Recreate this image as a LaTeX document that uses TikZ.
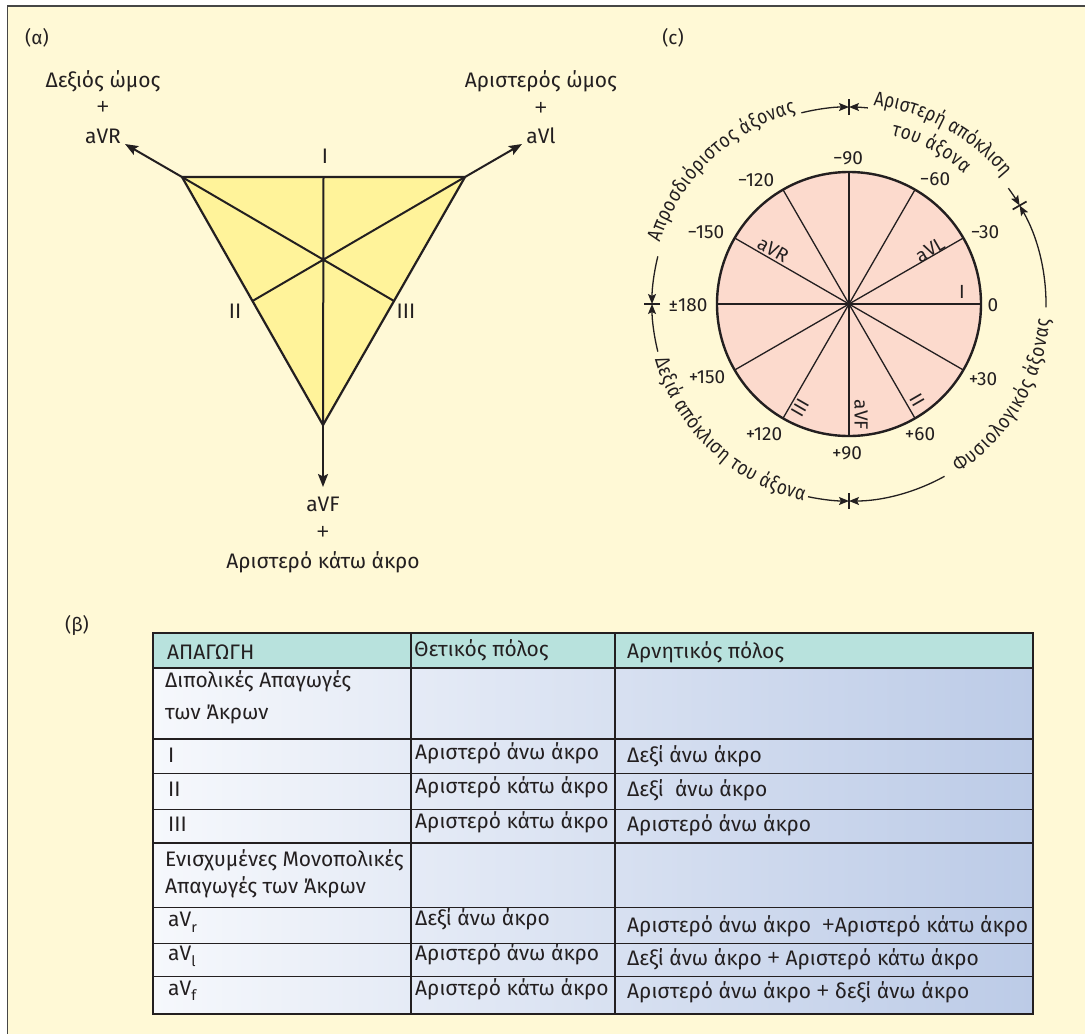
\documentclass[tikz,border=0pt]{standalone}
\usepackage{fontspec}
\setmainfont{Fira Sans}
\newfontfamily\plusfont{Open Sans}
\newfontfamily\arcfam[FakeStretch=0.85]{Fira Sans}
\usetikzlibrary{arrows.meta,decorations.text,calc}
\definecolor{ink}{RGB}{35,31,32}
\definecolor{bgy}{RGB}{255,249,214}
\definecolor{triy}{RGB}{255,243,154}
\definecolor{pinkc}{RGB}{252,218,205}
\definecolor{headc}{RGB}{184,226,221}
\definecolor{tblL}{RGB}{246,248,252}
\definecolor{tblR}{RGB}{188,203,231}
\definecolor{framec}{RGB}{70,70,70}
\newcommand\fmain{\fontsize{21}{26}\selectfont}
\newcommand\ftick{\fontsize{19}{23}\selectfont}
\newcommand\farc{\arcfam\fontsize{20.3}{24}\selectfont}
\newcommand\sbs[1]{\raisebox{-0.27em}{\fontsize{14.5}{15}\selectfont #1}}
\newcommand\pl{{\plusfont\fontsize{22}{26}\selectfont +}}
\begin{document}
\begin{tikzpicture}[x=1pt,y=-1pt,
  lab/.style={inner sep=0pt, text=ink, font=\fmain},
  tick/.style={inner sep=0pt, text=ink, font=\ftick},
  cell/.style={inner sep=0pt, text=ink, font=\fmain, anchor=base west},
  tarr/.style={draw=ink, line width=2pt, -{Stealth[length=13pt,width=10pt,inset=2.5pt]}},
  arcline/.style={draw=ink, line width=1.3pt},
  arctip/.style={arcline, -{Stealth[length=10pt,width=8pt,inset=2pt]}},
  thinrule/.style={draw=ink, line width=1.3pt},
  thickrule/.style={draw=ink, line width=2.6pt},
  arctext/.style={decorate, decoration={text along path, text color=ink, text align={fit to path}, text={#1}}}
]
\useasboundingbox (0,0) rectangle (1085,1034);
% background and frame
\fill[white] (0,0) rectangle (1085,1034);
\fill[bgy] (7.5,6) rectangle (1085,1034);
\draw[framec, line width=1.8pt] (7.5,1034) -- (7.5,6) -- (1085,6);

% ---------------- (a) triangle ----------------
\node[inner sep=0pt, text=ink, font=\ftick, anchor=base] (la) at (37,44) {(α)};
\coordinate (TL) at (182,177);
\coordinate (TR) at (465,177);
\coordinate (TB) at (323,425);
\coordinate (TM) at (323.5,177);
\coordinate (ML) at ($(TL)!0.5!(TB)$);
\coordinate (MR) at ($(TR)!0.5!(TB)$);
\filldraw[fill=triy, draw=ink, line width=2.2pt, line join=miter] (TL) -- (TR) -- (TB) -- cycle;
\draw[ink, line width=2pt] (TM) -- (TB) (TL) -- (MR) (TR) -- (ML);
\coordinate (avrtip) at (125,144);
\coordinate (avltip) at (522,144);
\coordinate (avftip) at (323,487);
\draw[tarr] (TL) -- (avrtip);
\draw[tarr] (TR) -- (avltip);
\draw[tarr] (TB) -- (avftip);
\node[lab, anchor=base] (rs) at (103,87) {Δεξιός ώμος};
\node[lab] (rp) at (103,108) {\pl};
\node[lab, anchor=base] (avr) at (103,143.3) {aVR};
\node[lab, anchor=base] (ls) at (541,87) {Αριστερός ώμος};
\node[lab] (lp) at (541,109) {\pl};
\node[lab, anchor=base] (avl) at (541,143.3) {aVl};
\node[lab, anchor=base] (tI) at (325,163) {I};
\node[lab, anchor=base] (tII) at (235,318) {II};
\node[lab, anchor=base] (tIII) at (406,318) {III};
\node[lab, anchor=base] (avf) at (323,511.7) {aVF};
\node[lab] (fp) at (323,533) {\pl};
\node[lab, anchor=base] (ll) at (323,568) {Αριστερό κάτω άκρο};

% ---------------- (c) circle ----------------
\node[inner sep=0pt, text=ink, font=\ftick, anchor=base] (lc) at (673,44) {(c)};
\coordinate (O) at (849,304);
\fill[pinkc] (O) circle[radius=132];
\foreach \a in {30,60,120,150,210,240,300,330}
  \draw[ink, line width=1.3pt] (O) -- ++(\a:132);
\foreach \a in {0,90,180,270}
  \draw[ink, line width=1.8pt] (O) -- ++(\a:132);
\draw[ink, line width=2.4pt] (O) circle[radius=132];
% tick labels
\node[tick] (m90) at (848,158) {−90};
\node[tick] (m60) at (935,179) {−60};
\node[tick] (m120) at (756,180) {−120};
\node[tick] (m150) at (706,232) {−150};
\node[tick] (m30) at (985,232) {−30};
\node[tick] (p180) at (688,305) {±180};
\node[tick] (z0) at (993,305) {0};
\node[tick] (p30) at (983,379) {+30};
\node[tick] (p150) at (707,377) {+150};
\node[tick] (p60) at (920,434) {+60};
\node[tick] (p120) at (764,434) {+120};
\node[tick] (p90) at (847,453) {+90};
% inner labels
\node[tick, rotate=-30] (iavr) at (773,250) {aVR};
\node[tick, rotate=30] (iavl) at (930,250) {aVL};
\node[tick] (iI) at (962,292) {I};
\node[tick, rotate=-60] (iII) at (917,400) {II};
\node[tick, rotate=60] (iIII) at (800,408) {III};
\node[tick, rotate=-90] (iavf) at (861,415) {aVF};
% markers
\foreach \a in {-90,-30,90,180}
  \draw[ink, line width=1.7pt] ($(O)+(\a:189)$) -- ($(O)+(\a:205)$);
% arrow arcs
\draw[arctip] ($(O)+(194:197)$) arc[start angle=194, end angle=180, radius=197];
\draw[arctip] ($(O)+(-104:197)$) arc[start angle=-104, end angle=-90, radius=197];
\draw[arctip] ($(O)+(-84.5:197)$) arc[start angle=-84.5, end angle=-90, radius=197];
\draw[arctip] ($(O)+(-36:197)$) arc[start angle=-36, end angle=-30, radius=197];
\draw[arctip] ($(O)+(1:197)$) arc[start angle=1, end angle=-30, radius=197];
\draw[arctip] ($(O)+(61:197)$) arc[start angle=61, end angle=90, radius=197];
\draw[arctip] ($(O)+(102:197)$) arc[start angle=102, end angle=90, radius=197];
\draw[arctip] ($(O)+(166:197)$) arc[start angle=166, end angle=180, radius=197];
% arc texts
\path[arctext={|\farc|Απροσδιόριστος άξονας}] ($(O)+(-162:199)$) arc[start angle=-162, end angle=-105.5, radius=199];
\path[arctext={|\farc|Αριστερή απόκλιση}] ($(O)+(-83:200)$) arc[start angle=-83, end angle=-39.5, radius=200];
\path[arctext={|\farc|του άξονα}] ($(O)+(-76:174)$) arc[start angle=-76, end angle=-48.5, radius=174];
\path[arctext={|\farc|Φυσιολογικός άξονας}] ($(O)+(57:201)$) arc[start angle=57, end angle=4.5, radius=201];
\path[arctext={|\farc|Δεξιά απόκλιση του άξονα}] ($(O)+(164:202)$) arc[start angle=164, end angle=103, radius=202];

% ---------------- (b) table ----------------
\node[inner sep=0pt, text=ink, font=\ftick, anchor=base] (lb) at (77,631) {(β)};
\shade[left color=tblL, right color=tblR] (153,668) rectangle (1033,1014);
\fill[headc] (153,633) rectangle (1033,668);
\foreach \y in {739,773.3,809.3,907.7,943.3,976.7}
  \draw[thinrule] (153,\y) -- (1033,\y);
\foreach \y in {668,843}
  \draw[thickrule] (153,\y) -- (1033,\y);
\draw[thinrule] (411,633) -- (411,1014);
\draw[thinrule] (615,633) -- (615,1014);
\draw[thickrule] (153,633) rectangle (1033,1014);
% header
\node[cell] (h1) at (167,659.5) {ΑΠΑΓΩΓΗ};
\node[cell] (h2) at (414,656) {Θετικός πόλος};
\node[cell] (h3) at (627,658) {Αρνητικός πόλος};
% bipolar
\node[cell] (b1) at (165,687) {Διπολικές Απαγωγές};
\node[cell] (b2) at (165,719) {των Άκρων};
\node[cell] (r1a) at (168,762) {I};
\node[cell] (r1b) at (415,759) {Αριστερό άνω άκρο};
\node[cell] (r1c) at (627,762) {Δεξί άνω άκρο};
\node[cell] (r2a) at (168,796) {II};
\node[cell] (r2b) at (415,793) {Αριστερό κάτω άκρο};
\node[cell] (r2c) at (627,796) {Δεξί\ \ άνω άκρο};
\node[cell] (r3a) at (168,831) {III};
\node[cell] (r3b) at (415,828) {Αριστερό κάτω άκρο};
\node[cell] (r3c) at (627,831) {Αριστερό άνω άκρο};
% augmented
\node[cell] (u1) at (165,866.5) {Ενισχυμένες Μονοπολικές};
\node[cell] (u2) at (165,893.5) {Απαγωγές των Άκρων};
\node[cell] (r4a) at (168,926.7) {aV\sbs{r}};
\node[cell] (r4b) at (415,925) {Δεξί άνω άκρο};
\node[cell] (r4c) at (627,932) {Αριστερό άνω άκρο\ \ \pl Αριστερό κάτω άκρο};
\node[cell] (r5a) at (168,960.7) {aV\sbs{l}};
\node[cell] (r5b) at (415,960) {Αριστερό άνω άκρο};
\node[cell] (r5c) at (627,965) {Δεξί άνω άκρο \pl\ Αριστερό κάτω άκρο};
\node[cell] (r6a) at (168,995) {aV\sbs{f}};
\node[cell] (r6b) at (415,995) {Αριστερό κάτω άκρο};
\node[cell] (r6c) at (627,998) {Αριστερό άνω άκρο \pl\ δεξί άνω άκρο};
\end{tikzpicture}
\end{document}
